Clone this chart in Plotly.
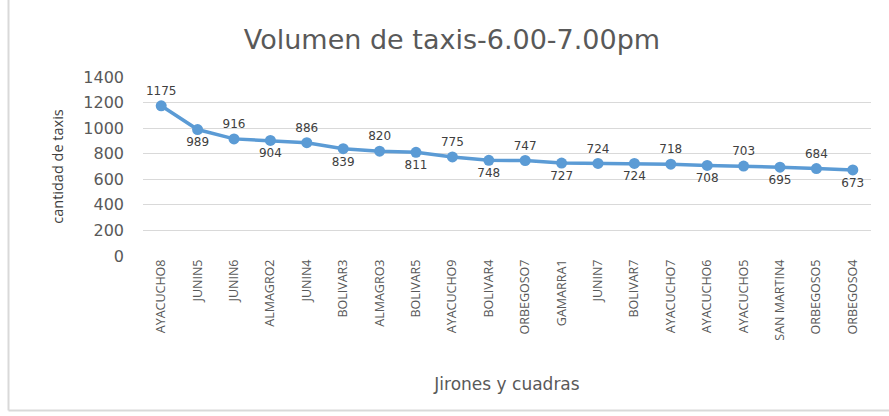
import plotly.graph_objects as go

# Street blocks (jirón + cuadra) and taxi counts, 6:00-7:00 pm
cuadras = ["AYACUCHO8", "JUNIN5", "JUNIN6", "ALMAGRO2", "JUNIN4", "BOLIVAR3",
           "ALMAGRO3", "BOLIVAR5", "AYACUCHO9", "BOLIVAR4", "ORBEGOSO7",
           "GAMARRA1", "JUNIN7", "BOLIVAR7", "AYACUCHO7", "AYACUCHO6",
           "AYACUCHO5", "SAN MARTIN4", "ORBEGOSO5", "ORBEGOSO4"]
taxis = [1175, 989, 916, 904, 886, 839, 820, 811, 775, 748, 747, 727,
         724, 724, 718, 708, 703, 695, 684, 673]
y_ticks = [0, 200, 400, 600, 800, 1000, 1200, 1400]

# Data labels alternate above / below the markers
label_pos = ["top center" if i % 2 == 0 else "bottom center" for i in range(len(taxis))]

W, H = 889, 416
L, R, T, B = 143, 18, 77, 160
pw, ph = W - L - R, H - T - B

def px_x(x):
    return (x - L) / pw

def px_y(y):
    return (H - B - y) / ph

fig = go.Figure()
fig.add_trace(go.Scatter(
    x=cuadras, y=taxis,
    mode="lines+markers+text",
    line=dict(color="#5b9bd5", width=3.5),
    marker=dict(color="#5b9bd5", size=11),
    text=[str(v) for v in taxis],
    textposition=label_pos,
    textfont=dict(family="DejaVu Sans", size=12, color="#404040"),
    cliponaxis=False,
    showlegend=False,
))

fig.update_layout(
    width=W, height=H,
    margin=dict(l=L, r=R, t=T, b=B, autoexpand=False),
    paper_bgcolor="white", plot_bgcolor="white",
    title=dict(text="Volumen de taxis-6.00-7.00pm",
               font=dict(family="DejaVu Sans", size=27, color="#595959"),
               x=452 / W, xanchor="center", y=1 - 40 / H, yanchor="middle"),
    xaxis=dict(
        type="category", tickangle=-90, range=[-0.5, len(cuadras) - 0.5],
        tickfont=dict(family="Open Sans", size=12.5, color="#595959"),
        showgrid=False, zeroline=False, showline=False, ticks="",
        title=dict(text="Jirones y cuadras", standoff=38,
                   font=dict(family="DejaVu Sans", size=17, color="#595959")),
    ),
    yaxis=dict(
        range=[0, 1400], tickvals=y_ticks,
        tickfont=dict(family="DejaVu Sans", size=16, color="#595959"),
        gridcolor="#d9d9d9", gridwidth=1, zeroline=False, showline=False,
        ticks="", ticklabelstandoff=18,
        title=dict(text="cantidad de taxis", standoff=16,
                   font=dict(family="Open Sans", size=14.5, color="#404040")),
    ),
)

# Chart frame (top and left edges)
frame = dict(color="#d9d9d9", width=2)
fig.add_shape(type="line", xref="paper", yref="paper",
              x0=px_x(8.5), x1=px_x(W), y0=px_y(H - 5.5), y1=px_y(H - 5.5), line=frame)
fig.add_shape(type="line", xref="paper", yref="paper",
              x0=px_x(8.5), x1=px_x(8.5), y0=px_y(H - 5.5), y1=px_y(-2), line=frame)

fig.write_html("out.html")
